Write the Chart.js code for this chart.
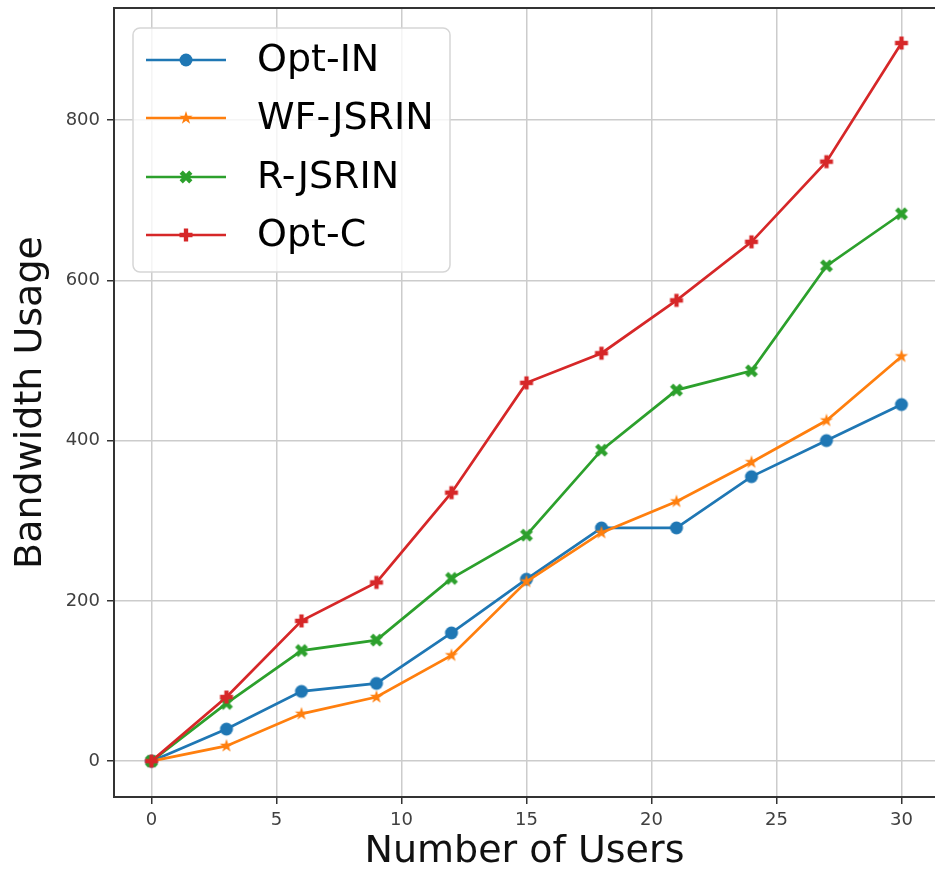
<!DOCTYPE html>
<html>
<head>
<meta charset="utf-8">
<script src="https://cdn.jsdelivr.net/npm/chart.js@4/dist/chart.umd.min.js"></script>
<style>
  html, body { margin: 0; padding: 0; background: #ffffff; overflow: hidden; }
  canvas { display: block; }
</style>
</head>
<body>
<canvas id="c" width="935" height="875"></canvas>
<script>
// ---- data ----
const xValues = [0, 3, 6, 9, 12, 15, 18, 21, 24, 27, 30];
const optIN   = [0, 40, 87, 97, 160, 227, 291, 291, 355, 400, 445];
const wfJSRIN = [0, 19, 59, 80, 132, 224, 285, 324, 373, 425, 505];
const rJSRIN  = [0, 72, 138, 151, 228, 282, 388, 463, 487, 618, 683];
const optC    = [0, 80, 175, 223, 335, 472, 509, 575, 648, 748, 896];
const seriesNames = ['Opt-IN', 'WF-JSRIN', 'R-JSRIN', 'Opt-C'];
const xTicks = [0, 5, 10, 15, 20, 25, 30];
const yTicks = [0, 200, 400, 600, 800];
const xTitle = 'Number of Users';
const yTitle = 'Bandwidth Usage';

const COLORS = ['#1f77b4', '#ff7f0e', '#2ca02c', '#d62728'];
const FONT = "'DejaVu Sans', 'Liberation Sans', sans-serif";

// ---- marker images (matplotlib-like o, *, X, P) ----
function makeMarker(type, color) {
  const s = 16;
  const cv = document.createElement('canvas');
  cv.width = s; cv.height = s;
  const g = cv.getContext('2d');
  g.fillStyle = color;
  g.translate(s / 2, s / 2);
  g.beginPath();
  if (type === 'circle') {
    g.arc(0, 0, 6.5, 0, Math.PI * 2);
  } else if (type === 'star') {
    const R = 7, r = R * 0.382;
    for (let i = 0; i < 10; i++) {
      const a = -Math.PI / 2 + i * Math.PI / 5;
      const rr = i % 2 === 0 ? R : r;
      const px = rr * Math.cos(a), py = rr * Math.sin(a);
      if (i === 0) g.moveTo(px, py); else g.lineTo(px, py);
    }
  } else {
    const pts = [[-1,-3],[-1,-1],[-3,-1],[-3,1],[-1,1],[-1,3],[1,3],[1,1],[3,1],[3,-1],[1,-1],[1,-3]];
    const k = type === 'X' ? 6.8 / 3 : 6.5 / 3;
    const rot = type === 'X' ? Math.PI / 4 : 0;
    pts.forEach((p, i) => {
      const px = p[0] * k, py = p[1] * k;
      const qx = px * Math.cos(rot) - py * Math.sin(rot);
      const qy = px * Math.sin(rot) + py * Math.cos(rot);
      if (i === 0) g.moveTo(qx, qy); else g.lineTo(qx, qy);
    });
  }
  g.closePath();
  g.fill();
  return cv;
}
const markers = [
  makeMarker('circle', COLORS[0]),
  makeMarker('star', COLORS[1]),
  makeMarker('X', COLORS[2]),
  makeMarker('P', COLORS[3])
];

const seriesValues = [optIN, wfJSRIN, rJSRIN, optC];
const datasets = seriesValues.map((vals, i) => ({
  label: seriesNames[i],
  data: vals.map((v, j) => ({ x: xValues[j], y: v })),
  borderColor: COLORS[i],
  backgroundColor: COLORS[i],
  borderWidth: 2.7,
  pointStyle: markers[i],
  pointRadius: 6,
  pointHoverRadius: 6,
  tension: 0,
  fill: false,
  order: 4 - i
}));

// ---- plugins: top spine + matplotlib-style legend ----
const extras = {
  id: 'extras',
  afterDatasetsDraw(chart) {
    const ctx = chart.ctx;
    const a = chart.chartArea;
    ctx.save();
    // top spine
    ctx.strokeStyle = '#333333';
    ctx.lineWidth = 2;
    ctx.beginPath();
    ctx.moveTo(a.left - 1, a.top);
    ctx.lineTo(a.right, a.top);
    ctx.stroke();

    // legend box
    const bx = 133, by = 28, bw = 317, bh = 244, r = 7;
    ctx.beginPath();
    ctx.moveTo(bx + r, by);
    ctx.lineTo(bx + bw - r, by);
    ctx.arcTo(bx + bw, by, bx + bw, by + r, r);
    ctx.lineTo(bx + bw, by + bh - r);
    ctx.arcTo(bx + bw, by + bh, bx + bw - r, by + bh, r);
    ctx.lineTo(bx + r, by + bh);
    ctx.arcTo(bx, by + bh, bx, by + bh - r, r);
    ctx.lineTo(bx, by + r);
    ctx.arcTo(bx, by, bx + r, by, r);
    ctx.closePath();
    ctx.fillStyle = 'rgba(255,255,255,0.8)';
    ctx.fill();
    ctx.strokeStyle = '#d6d6d6';
    ctx.lineWidth = 1.5;
    ctx.stroke();

    const rows = [60, 118, 177, 235];
    chart.data.datasets.forEach((ds, i) => {
      const y = rows[i];
      ctx.strokeStyle = ds.borderColor;
      ctx.lineWidth = 2.7;
      ctx.beginPath();
      ctx.moveTo(146, y);
      ctx.lineTo(226, y);
      ctx.stroke();
      const m = markers[i];
      ctx.drawImage(m, 186 - m.width / 2, y - m.height / 2);
      ctx.fillStyle = '#000000';
      ctx.font = '38px ' + FONT;
      ctx.textBaseline = 'middle';
      ctx.textAlign = 'left';
      ctx.fillText(ds.label, 257, y + 1);
    });
    ctx.restore();
  }
};

const gridCommon = {
  color: '#cccccc',
  lineWidth: 1.5,
  tickColor: '#333333',
  tickLength: 7,
  tickWidth: 1.5
};

new Chart(document.getElementById('c'), {
  type: 'line',
  data: { datasets },
  plugins: [extras],
  options: {
    responsive: false,
    animation: false,
    events: [],
    layout: { autoPadding: false, padding: { top: 8, left: 0, right: 0, bottom: 0 } },
    plugins: { legend: { display: false }, tooltip: { enabled: false } },
    scales: {
      x: {
        type: 'linear',
        min: -1.5,
        max: 31.34,
        afterBuildTicks: s => { s.ticks = xTicks.map(v => ({ value: v })); },
        afterFit: s => { s.height = 78; s.paddingLeft = 0; s.paddingRight = 0; },
        grid: gridCommon,
        border: { color: '#333333', width: 2 },
        ticks: { font: { family: FONT, size: 18 }, color: '#404040', padding: 6, maxRotation: 0 },
        title: { display: true, text: xTitle, font: { family: FONT, size: 38 }, color: '#111111', padding: { top: 0, bottom: 0 } }
      },
      y: {
        type: 'linear',
        min: -44.75,
        max: 939.75,
        afterBuildTicks: s => { s.ticks = yTicks.map(v => ({ value: v })); },
        afterFit: s => { s.width = 114; s.paddingTop = 0; s.paddingBottom = 0; },
        grid: gridCommon,
        border: { color: '#333333', width: 2 },
        ticks: { font: { family: FONT, size: 18 }, color: '#404040', padding: 7 },
        title: { display: true, text: yTitle, font: { family: FONT, size: 38 }, color: '#111111', padding: { top: 8, bottom: 0 } }
      }
    }
  }
});
</script>
</body>
</html>
